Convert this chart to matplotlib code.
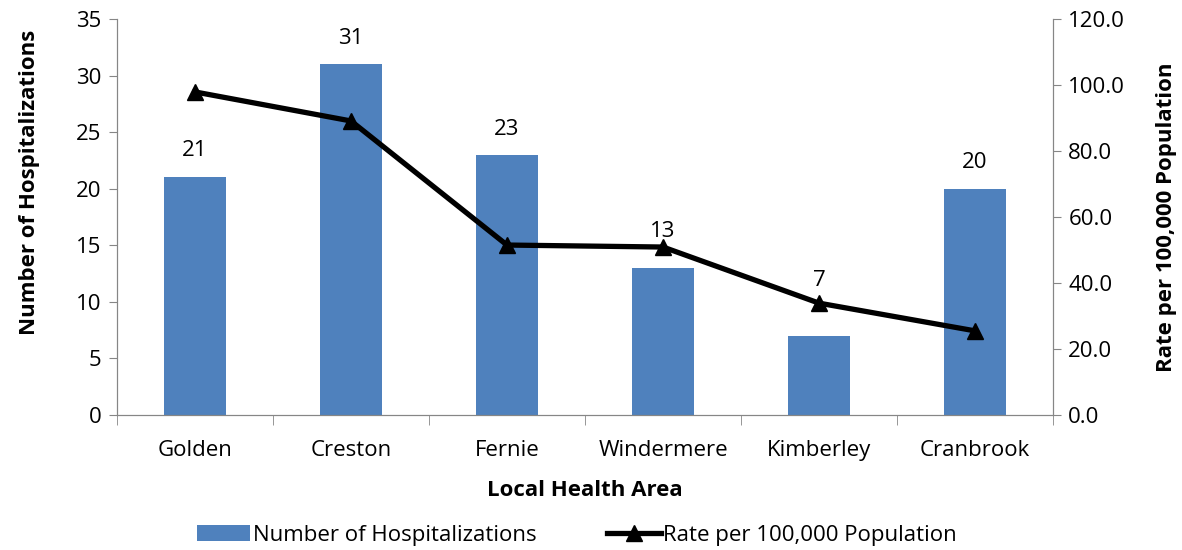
import numpy as np
import matplotlib
matplotlib.use("Agg")
import matplotlib.pyplot as plt
from matplotlib.ticker import FormatStrFormatter

plt.rcParams['font.family'] = ['Open Sans', 'DejaVu Sans']

# data
areas = ["Golden", "Creston", "Fernie", "Windermere", "Kimberley", "Cranbrook"]
hospitalizations = [21, 31, 23, 13, 7, 20]
rate_per_100k = [97.9, 89.1, 51.5, 50.9, 33.9, 25.5]
# label lift above bar top (left-axis units), Excel nudged 13 and 7 above the line
label_lift = [2.4, 2.3, 2.2, 3.2, 4.85, 2.3]

bar_color = "#4F81BD"
axis_grey = "#868686"
fs = 16

fig = plt.figure(figsize=(11.82, 5.5), dpi=100)
ax = fig.add_axes([117 / 1182, 1 - 415 / 550, (1053 - 117) / 1182, (415 - 19) / 550])
ax2 = ax.twinx()

x = np.arange(len(areas))
ax.bar(x, hospitalizations, width=0.4, color=bar_color, label="Number of Hospitalizations", zorder=2)

ax2.plot(x, rate_per_100k, color="black", linewidth=3.8, marker="^", markersize=11,
         label="Rate per 100,000 Population", zorder=3)

# data labels drawn on the top axes so the line doesn't cover them
for xi, v, d in zip(x, hospitalizations, label_lift):
    ax2.text(xi, v + d, str(v), ha="center", va="center", fontsize=fs,
             transform=ax.transData, zorder=5)

ax.set_xlim(-0.5, len(areas) - 0.5)
ax.set_ylim(0, 35)
ax.set_yticks(np.arange(0, 36, 5))
ax2.set_ylim(0, 120)
ax2.set_yticks(np.arange(0, 121, 20))
ax2.yaxis.set_major_formatter(FormatStrFormatter("%.1f"))

ax.set_xticks(x)
ax.set_xticklabels(areas, fontsize=fs)
ax.set_xticks(np.arange(-0.5, len(areas), 1), minor=True)
ax.tick_params(axis="x", which="major", length=0, pad=18)
ax.tick_params(axis="x", which="minor", length=7, color=axis_grey, direction="out")
ax.tick_params(axis="y", labelsize=fs, length=6, color=axis_grey, direction="out", pad=5)
ax2.tick_params(axis="y", labelsize=fs, length=6, color=axis_grey, direction="out", pad=5)

for a in (ax, ax2):
    a.spines["top"].set_visible(False)
    for s in ("left", "right", "bottom"):
        a.spines[s].set_color(axis_grey)

ax.set_xlabel("Local Health Area", fontsize=fs, fontweight="bold", labelpad=14)
ax.set_ylabel("Number of Hospitalizations", fontsize=fs, fontweight="bold", labelpad=26)
ax.yaxis.label.set_y(0.588)
ax2.set_ylabel("Rate per 100,000 Population", fontsize=fs, fontweight="bold", labelpad=22)

h1, l1 = ax.get_legend_handles_labels()
h2, l2 = ax2.get_legend_handles_labels()
fig.legend(h1 + h2, l1 + l2, loc="center", bbox_to_anchor=(0.488, 0.027), ncol=2,
           frameon=False, fontsize=fs, handlelength=2.4, handletextpad=0.1, columnspacing=3.2)

fig.savefig("out.png", dpi=100)
